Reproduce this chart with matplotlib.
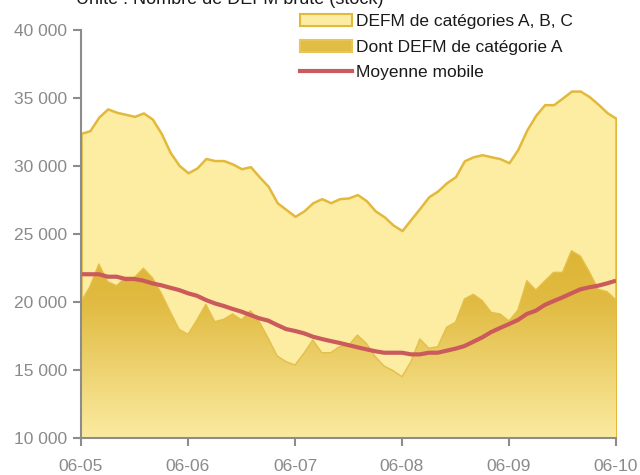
import numpy as np
import matplotlib.pyplot as plt
from matplotlib.colors import LinearSegmentedColormap
from matplotlib.ticker import FuncFormatter

plt.rcParams["font.family"] = ["Liberation Sans", "DejaVu Sans"]

# monthly values, 2006-05 .. 2010-05 (61 months)
defm_abc = [32400, 32600, 33600, 34200, 33950, 33800, 33650, 33900, 33450, 32400,
            31000, 30050, 29500, 29850, 30550, 30400, 30400, 30150, 29800, 29950,
            29200, 28500, 27300, 26800, 26300, 26700, 27300, 27600, 27300, 27600,
            27650, 27900, 27450, 26700, 26270, 25660, 25250, 26080, 26890, 27740,
            28160, 28770, 29220, 30390, 30680, 30830, 30680, 30540, 30240, 31230,
            32650, 33730, 34510, 34510, 35000, 35510, 35510, 35100, 34540, 33920,
            33510]
defm_a = [20020, 21125, 22790, 21490, 21200, 21820, 21820, 22480, 21790, 20640,
          19290, 17990, 17620, 18680, 19830, 18550, 18730, 19120, 18680, 19360,
          18550, 17330, 16030, 15610, 15370, 16230, 17210, 16270, 16270, 16720,
          16800, 17570, 16960, 15980, 15290, 14950, 14510, 15610, 17280, 16600,
          16710, 18140, 18510, 20220, 20570, 20100, 19240, 19120, 18600, 19410,
          21570, 20880, 21540, 22180, 22180, 23770, 23380, 22230, 20930, 20760,
          20150]
moy_mobile = [22040, 22040, 22040, 21860, 21860, 21690, 21690, 21570, 21370, 21230,
              21050, 20880, 20640, 20460, 20150, 19900, 19710, 19490, 19290, 19040,
              18800, 18630, 18310, 18010, 17870, 17700, 17450, 17280, 17130, 16990,
              16830, 16670, 16520, 16380, 16270, 16270, 16270, 16150, 16150, 16270,
              16270, 16420, 16570, 16760, 17080, 17400, 17790, 18090, 18380, 18680,
              19120, 19360, 19780, 20070, 20340, 20640, 20930, 21080, 21200, 21370,
              21570]
year_labels = ["06-05", "06-06", "06-07", "06-08", "06-09", "06-10"]

x = np.arange(len(defm_abc))
ymin, ymax = 10000, 40000
gray = "#8c8c8c"

fig = plt.figure(figsize=(6.4, 4.75), dpi=100)
ax = fig.add_axes([81 / 640, 1 - 438 / 475, 535 / 640, 408 / 475])

# categories A, B, C
ax.fill_between(x, ymin, defm_abc, facecolor="#FCEDA2", edgecolor="#E2B93B",
                linewidth=1.8, zorder=1)

# categorie A with vertical gradient
cmap = LinearSegmentedColormap.from_list(
    "gold", [(0, "#FBEBA0"), (0.72, "#E1BB42"), (1, "#DDB534")])
grad = np.linspace(0, 1, 256).reshape(-1, 1)
im = ax.imshow(grad, extent=[x[0], x[-1], ymin, max(defm_a)], origin="lower",
               aspect="auto", cmap=cmap, zorder=2)
poly = ax.fill_between(x, ymin, defm_a, facecolor="none", edgecolor="none", zorder=2)
im.set_clip_path(poly.get_paths()[0], transform=ax.transData)
ax.plot(x, defm_a, color="#E3BF4A", linewidth=1.0, zorder=3)

ax.plot(x, moy_mobile, color="#CB5A5C", linewidth=3, zorder=4,
        solid_capstyle="butt")

ax.set_xlim(x[0], x[-1])
ax.set_ylim(ymin, ymax)
ax.set_xticks(x[::12])
ax.set_xticklabels(year_labels)
ax.set_yticks(np.arange(ymin, ymax + 1, 5000))
ax.yaxis.set_major_formatter(FuncFormatter(lambda v, p: f"{int(v):,}".replace(",", " ")))

for s in ["top", "right"]:
    ax.spines[s].set_visible(False)
for s in ["left", "bottom"]:
    ax.spines[s].set_color(gray)
    ax.spines[s].set_linewidth(1.5)
    ax.spines[s].set_zorder(5)
ax.tick_params(axis="both", colors=gray, labelcolor="#8a8a8a", labelsize=12.5,
               length=6, width=1.5)
ax.tick_params(axis="y", pad=4)
ax.tick_params(axis="x", pad=9)

# legend
h1 = plt.Rectangle((0, 0), 1, 1, facecolor="#FCEDA2", edgecolor="#E2B93B", linewidth=1.5)
h2 = plt.Rectangle((0, 0), 1, 1, facecolor="#E2BD45", edgecolor="#E8C655", linewidth=1.5)
h3 = plt.Line2D([], [], color="#CB5A5C", linewidth=3)
fig.legend([h1, h2, h3],
           ["DEFM de catégories A, B, C", "Dont DEFM de catégorie A", "Moyenne mobile"],
           loc="upper left", bbox_to_anchor=(288 / 640, 1 - 2 / 475), frameon=False,
           fontsize=12.5, handlelength=3.0, handleheight=0.7, handletextpad=0.2,
           labelspacing=0.6, borderpad=0.2, labelcolor="#1a1a1a")

fig.text(76 / 640, 1 - 4 / 475, "Unité : Nombre de DEFM brute (stock)",
         fontsize=13, color="#1a1a1a", va="baseline", ha="left")

fig.savefig("out.png", dpi=100)
